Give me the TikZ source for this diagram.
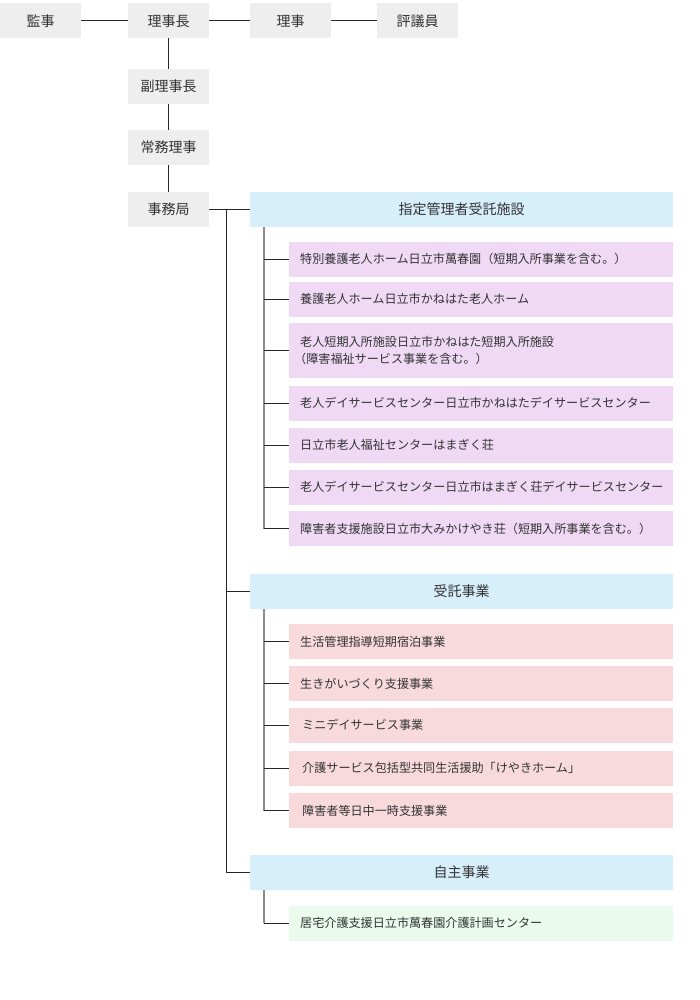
\documentclass[tikz,border=0pt]{standalone}
\usepackage{fontspec}
\setmainfont{Noto Sans CJK JP}
\definecolor{topgray}{HTML}{EEEEEE}
\definecolor{headblue}{HTML}{D7EEFB}
\definecolor{lav}{HTML}{EFD9F5}
\definecolor{pinkc}{HTML}{F8DADD}
\definecolor{greenc}{HTML}{EAFBEE}
\definecolor{txt}{HTML}{333333}
\definecolor{grayline}{HTML}{8C8C8C}
\begin{document}
\begin{tikzpicture}[x=1pt,y=-1pt,
  topbox/.style={fill=topgray, minimum width=81pt, minimum height=35pt, inner sep=0pt, text=txt, font=\fontsize{14}{17}\selectfont},
  headbox/.style={fill=headblue, anchor=west, minimum width=423pt, minimum height=35pt, inner sep=0pt, text=txt, font=\fontsize{14}{17}\selectfont},
  itembox/.style={anchor=west, minimum width=384pt, minimum height=35pt, text width=362pt, inner xsep=11pt, inner ysep=0pt, align=left, text=txt, font=\fontsize{12.1}{17}\selectfont},
  lavbox/.style={itembox, fill=lav},
  pinkbox/.style={itembox, fill=pinkc},
  greenbox/.style={itembox, fill=greenc},
  conn/.style={draw=black!85, line width=1pt},
  gconn/.style={draw=grayline, line width=2pt}]
\useasboundingbox (0,0) rectangle (700,1000);
\fill[white] (0,0) rectangle (700,1000);
% top row
\node[topbox] (kanji) at (40.5,20.8) {監事};
\node[topbox] (rijicho) at (168.5,20.8) {理事長};
\node[topbox] (riji) at (290.5,20.8) {理事};
\node[topbox] (hyogi) at (417.5,20.8) {評議員};
\node[topbox] (fuku) at (168.5,86.5) {副理事長};
\node[topbox] (jomu) at (168.5,147.5) {常務理事};
\node[topbox] (jimu) at (168.5,209.5) {事務局};
\draw[conn] (kanji.east) -- (rijicho.west);
\draw[conn] (rijicho.east) -- (riji.west);
\draw[conn] (riji.east) -- (hyogi.west);
\draw[conn] (rijicho.south) -- (fuku.north);
\draw[conn] (fuku.south) -- (jomu.north);
\draw[conn] (jomu.south) -- (jimu.north);
% headers
\node[headbox] (h1) at (250,209.5) {指定管理者受託施設};
\node[headbox] (h2) at (250,591.5) {受託事業};
\node[headbox] (h3) at (250,872.5) {自主事業};
\coordinate (tr) at (226,0);
\coordinate (g) at (263.5,0);
\draw[conn] (jimu.east) -- (h1.west);
\draw[conn] (jimu.east -| tr) |- (h3.west);
\draw[conn] (h2.west -| tr) -- (h2.west);
% group A
\node[lavbox] (a1) at (289,259.2) {特別養護老人ホーム日立市萬春園（短期入所事業を含む。）};
\node[lavbox] (a2) at (289,299.2) {養護老人ホーム日立市かねはた老人ホーム};
\node[lavbox, minimum height=55pt] (a3) at (289,350.6) {老人短期入所施設日立市かねはた短期入所施設\\\hspace*{-6pt}（障害福祉サービス事業を含む。）};
\node[lavbox] (a4) at (289,403) {老人デイサービスセンター日立市かねはたデイサービスセンター};
\node[lavbox] (a5) at (289,445) {日立市老人福祉センターはまぎく荘};
\node[lavbox] (a6) at (289,487) {老人デイサービスセンター日立市はまぎく荘デイサービスセンター};
\node[lavbox] (a7) at (289,528.5) {障害者支援施設日立市大みかけやき荘（短期入所事業を含む。）};
\draw[gconn] (h1.south -| g) -- (a7.west -| g);
\foreach \n in {a1,a2,a3,a4,a5,a6,a7} {\draw[conn] (\n.west -| g) -- (\n.west);}
% group B
\node[pinkbox] (b1) at (289,641.5) {生活管理指導短期宿泊事業};
\node[pinkbox] (b2) at (289,683.5) {生きがいづくり支援事業};
\node[pinkbox] (b3) at (289,725.3) {\hspace{2pt}ミニデイサービス事業};
\node[pinkbox] (b4) at (289,768) {\hspace{2pt}介護サービス包括型共同生活援助「けやきホーム」};
\node[pinkbox] (b5) at (289,810.5) {\hspace{2pt}障害者等日中一時支援事業};
\draw[gconn] (h2.south -| g) -- (b5.west -| g);
\foreach \n in {b1,b2,b3,b4,b5} {\draw[conn] (\n.west -| g) -- (\n.west);}
% group C
\node[greenbox] (c1) at (289,923) {居宅介護支援日立市萬春園介護計画センター};
\draw[gconn] (h3.south -| g) -- (c1.west -| g);
\draw[conn] (c1.west -| g) -- (c1.west);
\end{tikzpicture}
\end{document}
